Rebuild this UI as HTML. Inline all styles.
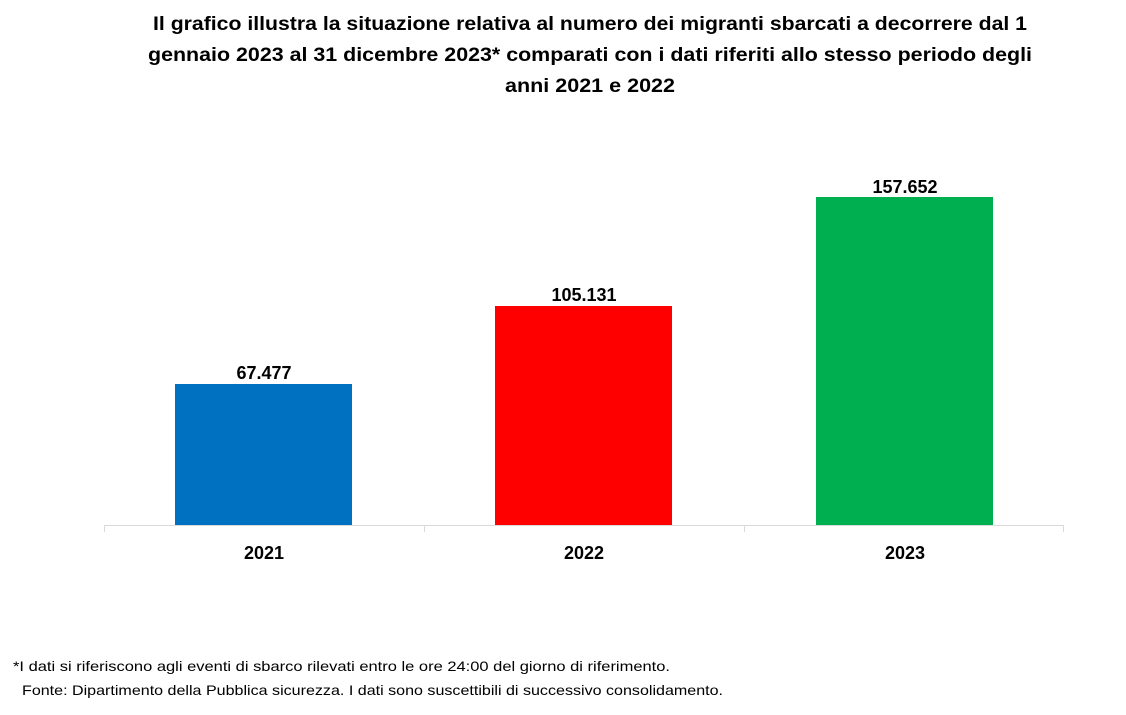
<!DOCTYPE html>
<html><head><meta charset="utf-8"><style>
html,body{margin:0;padding:0;background:#fff;}
svg{display:block;font-family:"Liberation Sans",sans-serif;}
</style></head><body>
<svg width="1126" height="715" viewBox="0 0 1126 715" xmlns="http://www.w3.org/2000/svg">
<g font-weight="bold" font-size="19" fill="#000" text-anchor="middle">
<text x="590" y="30" textLength="874" lengthAdjust="spacingAndGlyphs">Il grafico illustra la situazione relativa al numero dei migranti sbarcati a decorrere dal 1</text>
<text x="590" y="61" textLength="884" lengthAdjust="spacingAndGlyphs">gennaio 2023 al 31 dicembre 2023* comparati con i dati riferiti allo stesso periodo degli</text>
<text x="590" y="92" textLength="170" lengthAdjust="spacingAndGlyphs">anni 2021 e 2022</text>
</g>
<rect x="175" y="384" width="177" height="141" fill="#0070c0"/>
<rect x="495" y="306" width="177" height="219" fill="#ff0000"/>
<rect x="816" y="197" width="177" height="328" fill="#00b050"/>
<g stroke="#d9d9d9" stroke-width="1">
<line x1="104" y1="525.5" x2="1064" y2="525.5"/>
<line x1="104.5" y1="525" x2="104.5" y2="532"/>
<line x1="424.5" y1="525" x2="424.5" y2="532"/>
<line x1="744.5" y1="525" x2="744.5" y2="532"/>
<line x1="1063.5" y1="525" x2="1063.5" y2="532"/>
</g>
<g font-weight="bold" font-size="18" fill="#000" text-anchor="middle">
<text x="264" y="379">67.477</text>
<text x="584" y="301">105.131</text>
<text x="905" y="193">157.652</text>
<text x="264" y="559">2021</text>
<text x="584" y="559">2022</text>
<text x="905" y="559">2023</text>
</g>
<g font-size="14" fill="#000">
<text x="13" y="671" textLength="657" lengthAdjust="spacingAndGlyphs">*I dati si riferiscono agli eventi di sbarco rilevati entro le ore 24:00 del giorno di riferimento.</text>
<text x="22" y="695" textLength="701" lengthAdjust="spacingAndGlyphs">Fonte: Dipartimento della Pubblica sicurezza. I dati sono suscettibili di successivo consolidamento.</text>
</g>
</svg>
</body></html>
